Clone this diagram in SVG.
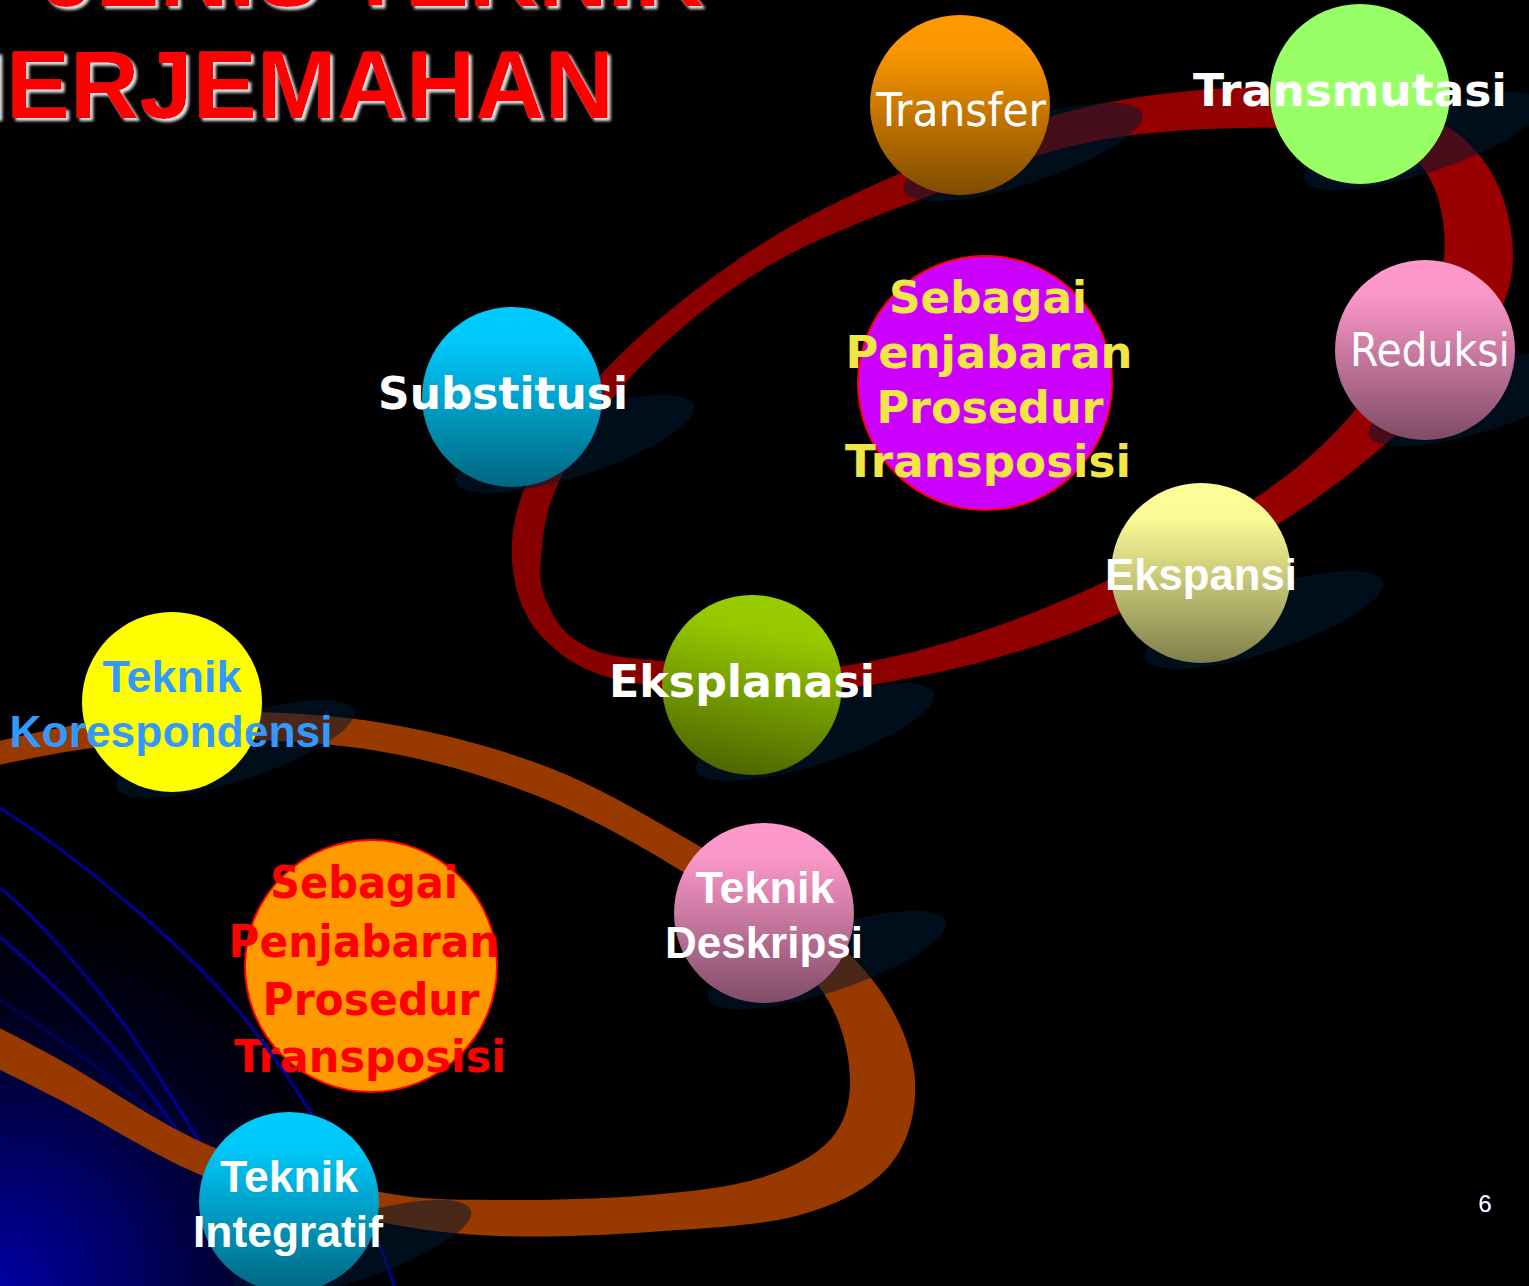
<svg xmlns="http://www.w3.org/2000/svg" width="1529" height="1286" viewBox="0 0 1529 1286">
<defs>
  <radialGradient id="bgBlue" cx="0" cy="1286" r="390" gradientUnits="userSpaceOnUse">
    <stop offset="0" stop-color="#0000A0"/>
    <stop offset="0.35" stop-color="#000062"/>
    <stop offset="0.7" stop-color="#00001C"/>
    <stop offset="1" stop-color="#000000"/>
  </radialGradient>
  <linearGradient id="redBand" x1="500" y1="0" x2="1510" y2="0" gradientUnits="userSpaceOnUse">
    <stop offset="0" stop-color="#860000"/>
    <stop offset="1" stop-color="#9A0000"/>
  </linearGradient>
  <linearGradient id="gOrange" x1="0" y1="0" x2="0" y2="1">
    <stop offset="0" stop-color="#FF9900"/><stop offset="0.2" stop-color="#FA9600"/><stop offset="1" stop-color="#7F4C00"/>
  </linearGradient>
  <linearGradient id="gCyan" x1="0" y1="0" x2="0" y2="1">
    <stop offset="0" stop-color="#00CCFF"/><stop offset="0.2" stop-color="#00C8FA"/><stop offset="1" stop-color="#006680"/>
  </linearGradient>
  <linearGradient id="gPink" x1="0" y1="0" x2="0" y2="1">
    <stop offset="0" stop-color="#FF99CC"/><stop offset="0.2" stop-color="#FA96C8"/><stop offset="1" stop-color="#7F4C66"/>
  </linearGradient>
  <linearGradient id="gPale" x1="0" y1="0" x2="0" y2="1">
    <stop offset="0" stop-color="#FFFF99"/><stop offset="0.2" stop-color="#FAFA96"/><stop offset="1" stop-color="#7F7F4C"/>
  </linearGradient>
  <linearGradient id="gLime" x1="0.6" y1="0" x2="0.4" y2="1">
    <stop offset="0" stop-color="#99CC00"/><stop offset="0.2" stop-color="#96C800"/><stop offset="1" stop-color="#4C6600"/>
  </linearGradient>
  <filter id="titleShadow" x="-5%" y="-20%" width="110%" height="140%">
    <feDropShadow dx="3" dy="3" stdDeviation="1.5" flood-color="#FFFFFF" flood-opacity="0.9"/>
  </filter>
  <filter id="numShadow">
    <feDropShadow dx="1" dy="1" stdDeviation="0.6" flood-color="#000080" flood-opacity="1"/>
  </filter>
</defs>
<style>
  .dvb { font-family: "DejaVu Sans", Verdana, sans-serif; font-weight: bold; font-size: 45px; text-anchor: middle; }
  .ab { font-family: "Liberation Sans", Arial, sans-serif; font-weight: bold; font-size: 45px; text-anchor: middle; }
  .cond { font-family: "DejaVu Sans Condensed", "DejaVu Sans", sans-serif; font-size: 46px; text-anchor: middle; }
  .white { fill: #FFFFFF; }
  .shadow { fill: #001932; fill-opacity: 0.52; }
  .line { fill: none; stroke: #000099; stroke-width: 3; }
  .title { font-family: "Liberation Sans", Arial, sans-serif; font-weight: bold; font-size: 96px; fill: #FF0000; }
</style>

<rect width="1529" height="1286" fill="#000000"/>
<rect width="1529" height="1286" fill="url(#bgBlue)"/>

<g id="title" filter="url(#titleShadow)">
  <text class="title" x="42" y="6">JENIS TEKNIK</text>
  <text class="title" x="614" y="118" text-anchor="end">PENERJEMAHAN</text>
</g>

<g id="node-sebagai-orange">
  <circle cx="371" cy="966" r="126" fill="#FF9900" stroke="#FF0000" stroke-width="2"/>
  <text class="dvb" fill="#FF0000" x="364" y="898" textLength="188" lengthAdjust="spacingAndGlyphs">Sebagai</text>
  <text class="dvb" fill="#FF0000" x="364" y="957" textLength="271" lengthAdjust="spacingAndGlyphs">Penjabaran</text>
  <text class="dvb" fill="#FF0000" x="371" y="1015" textLength="217" lengthAdjust="spacingAndGlyphs">Prosedur</text>
  <text class="dvb" fill="#FF0000" x="370" y="1072" textLength="272" lengthAdjust="spacingAndGlyphs">Transposisi</text>
</g>

<g id="blue-lines">
  <path class="line" d="M0,808 C90,865 200,960 250,1025 S370,1200 395,1290"/>
  <path class="line" d="M0,888 C40,920 100,990 130,1033 S185,1120 205,1150"/>
  <path class="line" d="M0,937 C50,980 110,1040 140,1080 S180,1135 192,1148"/>
  <path class="line" stroke-opacity="0.45" d="M0,1000 C60,1037 117,1080 175,1135"/>
</g>

<g id="connectors">
  <path id="red-loop" fill="url(#redBand)" fill-rule="evenodd" d="M512,560 C510.3,530.8 517,499.2 535,465 C553,430.8 582.5,391.7 620,355 C657.5,318.3 710,276.7 760,245 C810,213.3 863.3,188.5 920,165 C976.7,141.5 1036.7,116.8 1100,104 C1163.3,91.2 1242.5,84.5 1300,88 C1357.5,91.5 1410.3,103.8 1445,125 C1479.7,146.2 1500.5,180.8 1508,215 C1515.5,249.2 1518,285.7 1490,330 C1462,374.3 1405,432.3 1340,481 C1275,529.7 1181.7,587.5 1100,622 C1018.3,656.5 926.7,677.7 850,688 C773.3,698.3 690.8,692 640,684 C589.2,676 566.3,660.7 545,640 C523.7,619.3 513.7,589.2 512,560 Z
  M541,560 C543,539.2 543.5,512.2 560,480 C576.5,447.8 605,402.8 640,367 C675,331.2 720,294.2 770,265 C820,235.8 885,212.8 940,192 C995,171.2 1041.7,150.7 1100,140 C1158.3,129.3 1240,126.7 1290,128 C1340,129.3 1374.7,133.5 1400,148 C1425.3,162.5 1437.8,188 1442,215 C1446.2,242 1448.7,268.3 1425,310 C1401.3,351.7 1357.5,417.8 1300,465 C1242.5,512.2 1155,559.7 1080,593 C1005,626.3 921.7,653.8 850,665 C778.3,676.2 695,663.7 650,660 C605,656.3 597,652.2 580,643 C563,633.8 554.5,618.8 548,605 C541.5,591.2 539,580.8 541,560 Z"/>
  <path id="orange-loop" fill="#983A00" d="M-40,750 C-16.7,745.2 51.7,727.3 100,721 C148.3,714.7 200,711.2 250,712 C300,712.8 350,716.7 400,726 C450,735.3 503.3,749.8 550,768 C596.7,786.2 638.3,811 680,835 C721.7,859 766.7,886.2 800,912 C833.3,937.8 860.8,962 880,990 C899.2,1018 913.3,1050.8 915,1080 C916.7,1109.2 909.2,1142.5 890,1165 C870.8,1187.5 840,1203.8 800,1215 C760,1226.2 700,1228.5 650,1232 C600,1235.5 545,1237.7 500,1236 C455,1234.3 427.8,1231.3 380,1222 C332.2,1212.7 266.3,1200.3 213,1180 C159.7,1159.7 102.2,1121.7 60,1100 C17.8,1078.3 -23.3,1058.3 -40,1050 L-40,1008 C-23.3,1016.7 17.8,1036.8 60,1060 C102.2,1083.2 159.7,1125 213,1147 C266.3,1169 332.2,1183.2 380,1192 C427.8,1200.8 455,1199.5 500,1200 C545,1200.5 606.7,1198.7 650,1195 C693.3,1191.3 730,1187.2 760,1178 C790,1168.8 815,1156.3 830,1140 C845,1123.7 850.3,1103.3 850,1080 C849.7,1056.7 843,1025.5 828,1000 C813,974.5 788,950.7 760,927 C732,903.3 696.7,879.7 660,858 C623.3,836.3 583.3,814.2 540,797 C496.7,779.8 448.3,764.5 400,755 C351.7,745.5 300,741.3 250,740 C200,738.7 148.3,741.5 100,747 C51.7,752.5 -16.7,768.7 -40,773 Z"/>
</g>

<g id="shadows">
  <ellipse class="shadow" cx="1023" cy="152" rx="125" ry="32" transform="rotate(-18 1023 152)"/>
  <ellipse class="shadow" cx="1423" cy="141" rx="125" ry="32" transform="rotate(-18 1423 141)"/>
  <ellipse class="shadow" cx="575" cy="444" rx="125" ry="32" transform="rotate(-18 575 444)"/>
  <ellipse class="shadow" cx="1488" cy="397" rx="125" ry="32" transform="rotate(-18 1488 397)"/>
  <ellipse class="shadow" cx="1264" cy="620" rx="125" ry="32" transform="rotate(-18 1264 620)"/>
  <ellipse class="shadow" cx="815" cy="732" rx="125" ry="32" transform="rotate(-18 815 732)"/>
  <ellipse class="shadow" cx="235" cy="749" rx="125" ry="32" transform="rotate(-18 235 749)"/>
  <ellipse class="shadow" cx="827" cy="960" rx="125" ry="32" transform="rotate(-18 827 960)"/>
  <ellipse class="shadow" cx="352" cy="1249" rx="125" ry="32" transform="rotate(-18 352 1249)"/>
</g>

<g id="node-transfer">
  <circle cx="960" cy="105" r="90" fill="url(#gOrange)"/>
  <text class="cond white" x="961" y="126" textLength="170" lengthAdjust="spacingAndGlyphs">Transfer</text>
</g>
<g id="node-transmutasi">
  <circle cx="1360" cy="94" r="90" fill="#99FF66"/>
  <text class="dvb white" font-size="46" x="1350" y="106" textLength="314" lengthAdjust="spacingAndGlyphs">Transmutasi</text>
</g>
<g id="node-substitusi">
  <circle cx="512" cy="397" r="90" fill="url(#gCyan)"/>
  <text class="dvb white" x="503" y="409" textLength="250" lengthAdjust="spacingAndGlyphs">Substitusi</text>
</g>
<g id="node-sebagai-magenta">
  <circle cx="985" cy="383" r="127" fill="#CC00FF" stroke="#FF0000" stroke-width="2"/>
  <text class="dvb" fill="#F2E646" x="988" y="313" textLength="198" lengthAdjust="spacingAndGlyphs">Sebagai</text>
  <text class="dvb" fill="#F2E646" x="989" y="368" textLength="287" lengthAdjust="spacingAndGlyphs">Penjabaran</text>
  <text class="dvb" fill="#F2E646" x="990" y="423" textLength="227" lengthAdjust="spacingAndGlyphs">Prosedur</text>
  <text class="dvb" fill="#F2E646" x="988" y="477" textLength="286" lengthAdjust="spacingAndGlyphs">Transposisi</text>
</g>
<g id="node-reduksi">
  <circle cx="1425" cy="350" r="90" fill="url(#gPink)"/>
  <text class="cond white" font-size="47" x="1430" y="366" textLength="160" lengthAdjust="spacingAndGlyphs">Reduksi</text>
</g>
<g id="node-ekspansi">
  <circle cx="1201" cy="573" r="90" fill="url(#gPale)"/>
  <text class="ab white" x="1201" y="590" textLength="192" lengthAdjust="spacingAndGlyphs">Ekspansi</text>
</g>
<g id="node-eksplanasi">
  <circle cx="752" cy="685" r="90" fill="url(#gLime)"/>
  <text class="dvb white" x="742" y="697" textLength="266" lengthAdjust="spacingAndGlyphs">Eksplanasi</text>
</g>
<g id="node-korespondensi">
  <circle cx="172" cy="702" r="90" fill="#FFFF00"/>
  <text class="ab" fill="#3399FF" x="172" y="692" textLength="139" lengthAdjust="spacingAndGlyphs">Teknik</text>
  <text class="ab" fill="#3399FF" x="171" y="747" textLength="323" lengthAdjust="spacingAndGlyphs">Korespondensi</text>
</g>
<g id="node-deskripsi">
  <circle cx="764" cy="913" r="90" fill="url(#gPink)"/>
  <text class="ab white" x="765" y="903" textLength="139" lengthAdjust="spacingAndGlyphs">Teknik</text>
  <text class="ab white" x="764" y="958" textLength="198" lengthAdjust="spacingAndGlyphs">Deskripsi</text>
</g>
<g id="node-integratif">
  <circle cx="289" cy="1202" r="90" fill="url(#gCyan)"/>
  <text class="ab white" x="289" y="1192" textLength="138" lengthAdjust="spacingAndGlyphs">Teknik</text>
  <text class="ab white" x="288" y="1247" textLength="190" lengthAdjust="spacingAndGlyphs">Integratif</text>
</g>

<text id="page-number" x="1485" y="1212" font-family="Liberation Sans, Arial, sans-serif" font-size="24" fill="#FFFFFF" text-anchor="middle" filter="url(#numShadow)">6</text>
</svg>
